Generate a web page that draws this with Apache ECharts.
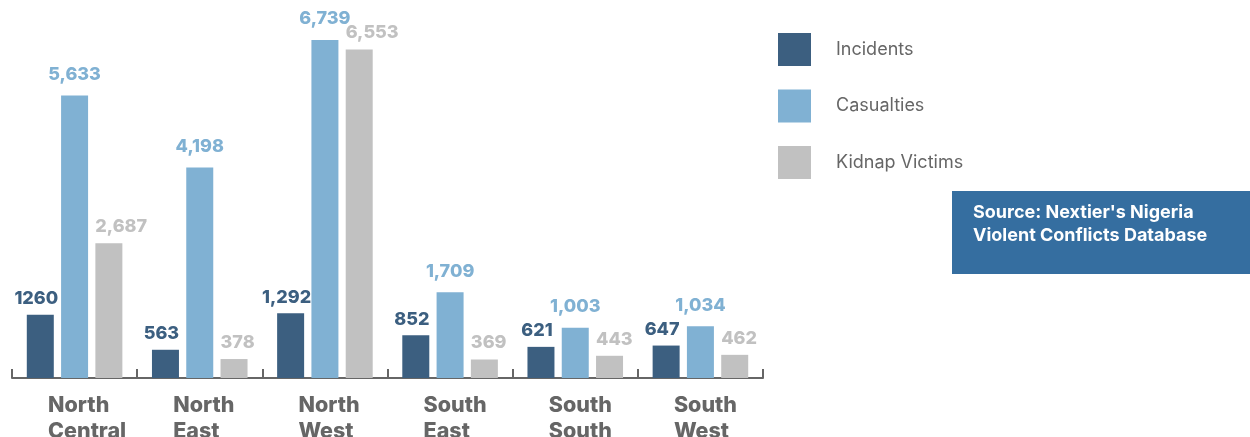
<!DOCTYPE html>
<html>
<head>
<meta charset="utf-8">
<script src="https://cdn.jsdelivr.net/npm/echarts@6/dist/echarts.min.js"></script>
<style>
  html, body { margin: 0; padding: 0; background: #ffffff; }
  #chart { width: 1250px; height: 437px; }
</style>
</head>
<body>
<div id="chart"></div>
<script>
// Regions of Nigeria and recorded conflict figures
const regions = ['North\nCentral', 'North\nEast', 'North\nWest', 'South\nEast', 'South\nSouth', 'South\nWest'];
const incidents = [1260, 563, 1292, 852, 621, 647];
const casualties = [5633, 4198, 6739, 1709, 1003, 1034];
const kidnapVictims = [2687, 378, 6553, 369, 443, 462];
const sourceLines = ["Source: Nextier's Nigeria", 'Violent Conflicts Database'];

const COLORS = { incidents: '#3c5f80', casualties: '#80b1d3', kidnap: '#c1c1c1' };
const FONT = 'Inter, "Noto Sans", sans-serif';

const chart = echarts.init(document.getElementById('chart'), null, { renderer: 'canvas' });

const withCommas = p => Number(p.value).toLocaleString('en-US');

function barSeries(name, values, color, labelPlacement) {
  return {
    name,
    type: 'bar',
    data: values.slice(),
    barWidth: 27,
    barGap: '27%',
    itemStyle: { color },
    label: Object.assign({
      show: true,
      position: 'top',
      color,
      fontFamily: FONT,
      fontWeight: 800,
      fontSize: 18,
      formatter: withCommas
    }, labelPlacement)
  };
}

// Incident values sit slightly left of their bars, kidnap values start at the bar's left edge
const incidentSeries = barSeries('Incidents', incidents, COLORS.incidents, { distance: 7, offset: [-4, 0] });
// The North Central incident count is printed without a thousands separator
incidentSeries.data[0] = { value: incidents[0], label: { formatter: '{c}' } };

chart.setOption({
  animation: false,
  backgroundColor: '#ffffff',
  grid: { left: 12, right: 487, top: 27, bottom: 59, containLabel: false, outerBoundsMode: 'none' },
  legend: {
    orient: 'vertical',
    left: 773,
    top: 28,
    itemWidth: 33,
    itemHeight: 33,
    itemGap: 23.5,
    icon: 'rect',
    textStyle: {
      color: '#666666',
      fontFamily: FONT,
      fontSize: 18,
      padding: [0, 0, 0, 20]
    },
    data: ['Incidents', 'Casualties', 'Kidnap Victims']
  },
  xAxis: {
    type: 'category',
    data: regions,
    boundaryGap: true,
    axisLine: { show: true, lineStyle: { color: '#666666', width: 2 } },
    axisTick: { show: true, inside: true, length: 9, lineStyle: { color: '#666666', width: 2 } },
    axisLabel: {
      margin: 15,
      interval: 0,
      formatter: v => v.split('\n').map(s => '{a|' + s + '}').join('\n'),
      rich: {
        a: {
          width: 53,
          align: 'left',
          color: '#666666',
          fontFamily: FONT,
          fontWeight: 800,
          fontSize: 21.5,
          lineHeight: 26
        }
      }
    }
  },
  yAxis: {
    type: 'value',
    min: 0,
    max: 7000,
    show: false,
    splitLine: { show: false }
  },
  series: [
    incidentSeries,
    barSeries('Casualties', casualties, COLORS.casualties, { distance: 12 }),
    barSeries('Kidnap Victims', kidnapVictims, COLORS.kidnap, {
      position: [0, -7.5], align: 'left', verticalAlign: 'bottom'
    })
  ],
  graphic: [
    {
      type: 'group',
      right: 0,
      top: 191,
      children: [
        { type: 'rect', shape: { x: 0, y: 0, width: 298, height: 83 }, style: { fill: '#356ea0' } },
        {
          type: 'text',
          x: 21,
          y: 10,
          style: {
            text: sourceLines.join('\n'),
            fill: '#ffffff',
            font: 'bold 18px ' + FONT,
            lineHeight: 23
          }
        }
      ]
    }
  ]
});
</script>
</body>
</html>
